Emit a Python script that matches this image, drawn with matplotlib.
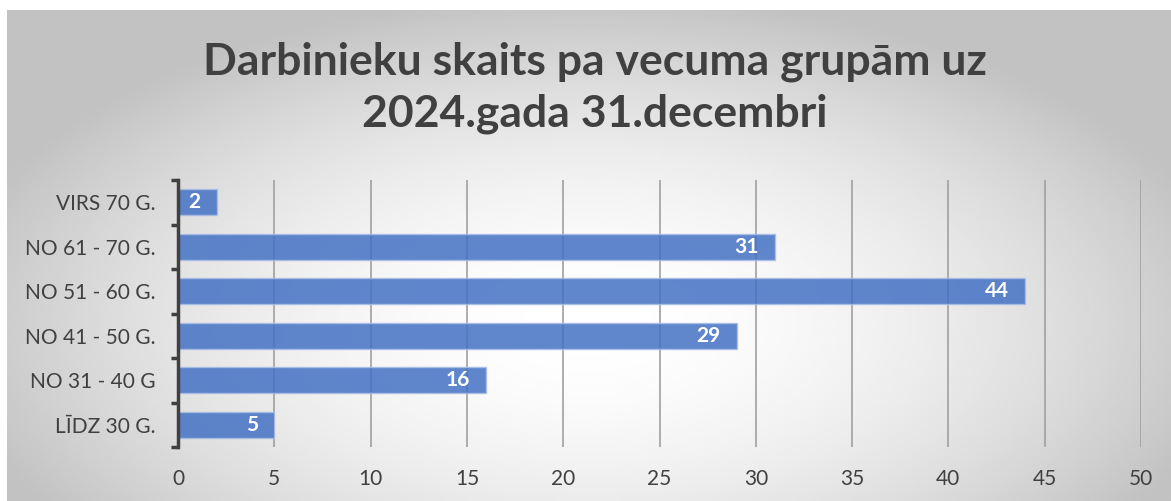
import numpy as np
import matplotlib
matplotlib.use("Agg")
import matplotlib.pyplot as plt

categories = ["LĪDZ 30 G.", "NO 31 - 40 G", "NO 41 - 50 G.", "NO 51 - 60 G.", "NO 61 - 70 G.", "VIRS 70 G."]
values = [5, 16, 29, 44, 31, 2]
x_ticks = [0, 5, 10, 15, 20, 25, 30, 35, 40, 45, 50]
title_lines = ["Darbinieku skaits pa vecuma grupām uz", "2024.gada 31.decembri"]

plt.rcParams["font.family"] = ["Lato", "DejaVu Sans"]
text_color = "#404040"
bar_color = "#4472C4"

W, H = 1171, 501
fig = plt.figure(figsize=(W / 100, H / 100), dpi=100)
fig.patch.set_facecolor("white")

# radial gradient background
bg = fig.add_axes([7 / W, 0, 1 - 7 / W, 1 - 10 / H])
gx, gy = np.meshgrid(np.linspace(0, 1, 400), np.linspace(0, 1, 200))
r = np.sqrt(((gx - 0.50) / 0.60) ** 2 + ((gy - 0.64) / 0.72) ** 2)
shade = np.clip(1.0 - 0.27 * r ** 1.8, 0.76, 1.0)
bg.imshow(shade, cmap="gray", vmin=0, vmax=1, aspect="auto", extent=[0, 1, 0, 1], origin="upper")
bg.axis("off")

ax = fig.add_axes([178 / W, 1 - 447 / H, (1141 - 178) / W, (447 - 180) / H])
ax.patch.set_alpha(0)

y = np.arange(len(categories))
ax.xaxis.grid(True, color="#a0a0a0", linewidth=1.2, zorder=0)
ax.set_axisbelow(True)
bars = ax.barh(y, values, height=0.58, color=bar_color, alpha=0.85,
               edgecolor="#a9bde6", linewidth=1.0, zorder=2)

for b, v in zip(bars, values):
    ax.text(b.get_width() - 0.85, b.get_y() + b.get_height() / 2, str(v),
            ha="right", va="center", color="white", fontsize=15, fontweight="bold", zorder=3)

ax.set_xlim(0, 50)
ax.set_ylim(-0.5, len(categories) - 0.5)
ax.set_xticks(x_ticks)
ax.set_yticks(y)
ax.set_yticklabels(categories)
ax.set_yticks(np.arange(-0.5, len(categories)), minor=True)

for s in ["top", "right", "bottom"]:
    ax.spines[s].set_visible(False)
ax.spines["left"].set_color("#404040")
ax.spines["left"].set_linewidth(2.5)

ax.tick_params(axis="x", length=0, pad=16, labelsize=15, labelcolor=text_color)
ax.tick_params(axis="y", which="major", length=0, pad=16, labelsize=15, labelcolor=text_color)
ax.tick_params(axis="y", which="minor", length=5, width=2.5, color="#404040", direction="out")

for line, base in zip(title_lines, [75, 127]):
    fig.text(595 / W, 1 - base / H, line, ha="center", va="baseline", fontsize=32,
             fontweight="bold", color=text_color)

fig.savefig("out.png", dpi=100)
